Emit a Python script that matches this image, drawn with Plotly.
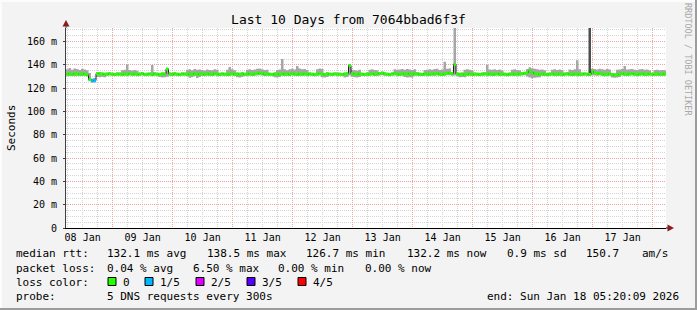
import plotly.graph_objects as go
from datetime import datetime, timedelta

# ---------------- data ----------------
start_time = "2026-01-08 05:20:09"
end_time = "2026-01-18 05:20:09"

median_ms = [
    132.0, 132.4, 131.8, 132.6, 132.2, 131.9, 132.5, 132.1, 131.6, 127.5, 126.5, 126.7, 132.5, 132.7, 132.2, 131.9, 132.1, 132.4, 132.0, 131.8, 132.3, 132.1, 131.7, 132.2,
    132.0, 132.5, 131.9, 132.3, 131.7, 132.1, 132.6, 131.8, 132.0, 132.2, 131.6, 132.4, 132.0, 131.8, 132.3, 132.1, 136.5, 132.2, 131.9, 132.5, 132.0, 131.7, 132.3, 132.1,
    131.8, 132.2, 132.0, 132.6, 131.9, 132.3, 132.1, 131.7, 132.4, 132.0, 131.8, 132.5, 132.2, 131.9, 132.3, 132.0, 131.7, 132.1, 132.4, 131.8, 132.2, 132.0, 132.5, 131.9,
    132.1, 132.4, 131.8, 132.2, 132.7, 133.0, 132.6, 131.9, 132.2, 132.0, 131.7, 132.3, 132.1, 131.8, 132.4, 132.0, 132.2, 131.9, 132.5, 132.1, 131.8, 132.3, 132.0, 132.2,
    131.9, 132.3, 132.0, 131.7, 132.2, 132.5, 132.1, 131.8, 132.4, 132.0, 131.9, 132.3, 132.1, 132.0, 131.8, 132.2, 132.4, 139.5, 132.6, 132.1, 131.9, 132.3, 132.0, 131.8,
    132.2, 132.0, 132.5, 131.9, 132.1, 132.6, 133.0, 132.4, 132.0, 131.8, 132.3, 132.6, 132.2, 131.9, 132.4, 132.1, 132.7, 132.3, 131.9, 132.2, 132.5, 132.0, 131.8, 132.3,
    132.1, 131.9, 132.4, 132.2, 132.6, 132.0, 131.8, 132.3, 132.8, 133.0, 132.4, 140.5, 132.2, 131.9, 132.1, 131.7, 132.0, 132.3, 131.9, 132.2, 132.0, 131.8, 132.1, 132.4,
    132.0, 132.3, 131.8, 132.1, 132.4, 131.9, 132.2, 132.0, 131.7, 132.1, 132.3, 131.9, 132.2, 132.0, 132.5, 132.8, 133.2, 134.8, 133.6, 132.4, 132.1, 131.8, 132.2, 132.0,
    131.8, 132.1, 132.3, 131.9, 132.0, 132.2, 131.7, 132.1, 132.4, 132.0, 131.9, 132.2, 132.0, 131.8, 132.1, 132.3, 132.0, 131.9, 134.5, 133.2, 132.6, 132.8, 132.2, 131.7,
    132.0, 132.3, 131.6, 131.4, 131.8, 132.2, 132.5, 132.1, 131.9, 132.3, 132.6, 132.0, 131.8, 132.2, 132.4, 131.9, 132.1, 132.3, 131.8, 132.0, 132.2, 131.9, 132.1, 132.2,
]

smoke_hi_ms = [
    136.2, 137.3, 135.8, 137.0, 136.4, 135.6, 136.8, 136.0, 135.5, 133.0, 128.4, 128.8, 133.8, 134.0, 133.5, 133.2, 133.4, 133.7, 133.3, 133.1, 133.6, 133.4, 135.5, 135.8,
    140.4, 135.6, 135.2, 135.7, 135.0, 133.4, 133.9, 133.1, 133.3, 133.5, 140.0, 133.7, 133.3, 133.1, 133.6, 133.4, 137.0, 133.5, 133.2, 133.8, 133.3, 133.0, 133.6, 133.4,
    135.8, 136.2, 135.5, 136.4, 135.9, 136.1, 135.6, 135.3, 136.0, 135.7, 135.4, 136.2, 135.8, 133.2, 133.6, 133.3, 135.9, 138.2, 136.3, 135.5, 133.5, 133.3, 133.8, 133.2,
    135.8, 136.3, 135.6, 136.0, 136.8, 137.0, 136.2, 135.7, 135.9, 133.3, 133.0, 133.6, 135.6, 136.0, 145.0, 136.2, 135.5, 136.3, 136.8, 136.0, 139.0, 136.9, 136.2, 136.5,
    135.6, 133.6, 133.3, 133.0, 136.2, 137.0, 136.5, 133.1, 133.7, 133.3, 133.2, 133.6, 133.4, 133.3, 133.1, 133.5, 133.7, 140.2, 135.9, 135.5, 135.3, 135.8, 133.3, 133.1,
    133.5, 135.8, 136.2, 135.6, 135.4, 133.9, 134.3, 133.7, 133.3, 133.1, 133.6, 136.3, 135.9, 136.1, 136.5, 135.8, 136.6, 136.0, 135.7, 136.2, 133.8, 133.3, 133.1, 135.7,
    135.9, 136.2, 135.8, 136.4, 136.7, 135.6, 136.0, 142.7, 136.8, 137.0, 134.0, 171.7, 133.5, 133.2, 133.4, 135.8, 136.2, 135.9, 135.5, 133.5, 133.3, 133.1, 133.4, 133.7,
    140.0, 136.1, 135.8, 136.3, 135.6, 136.0, 135.4, 133.3, 133.0, 133.4, 135.9, 136.2, 135.7, 135.5, 133.8, 134.1, 136.5, 138.0, 137.2, 136.8, 136.3, 135.8, 136.1, 135.5,
    133.1, 133.4, 135.9, 136.3, 135.7, 136.1, 135.6, 133.4, 133.7, 136.0, 135.7, 136.3, 144.0, 136.2, 133.6, 133.6, 133.3, 133.2, 136.8, 136.5, 136.0, 136.7, 136.2, 135.9,
    136.4, 136.0, 133.0, 132.8, 135.8, 136.1, 136.5, 139.0, 136.0, 136.3, 136.6, 135.9, 135.6, 136.2, 136.4, 135.8, 136.0, 135.5, 133.2, 135.6, 135.9, 135.4, 135.7, 135.5,
]

smoke_lo_ms = [
    130.8, 130.5, 130.9, 130.2, 130.7, 130.6, 130.4, 130.8, 130.0, 126.0, 124.8, 125.0, 129.6, 129.4, 129.8, 129.5, 130.8, 130.9, 130.7, 130.6, 130.8, 130.9, 130.5, 130.8,
    130.7, 130.9, 130.6, 130.8, 130.5, 130.7, 131.0, 130.6, 130.8, 130.9, 130.4, 130.8, 130.7, 129.6, 129.3, 129.5, 129.8, 130.7, 130.5, 130.8, 130.7, 130.4, 130.8, 130.9,
    130.6, 129.0, 129.4, 130.5, 128.8, 129.6, 130.7, 130.4, 130.8, 130.6, 130.5, 130.9, 130.7, 130.5, 130.8, 130.6, 130.5, 130.7, 130.9, 130.4, 129.4, 129.2, 129.7, 130.6,
    130.8, 130.7, 130.5, 130.9, 131.0, 131.2, 130.9, 130.5, 130.7, 130.8, 130.4, 129.5, 129.3, 129.6, 130.8, 130.5, 130.7, 130.4, 130.9, 130.6, 130.5, 130.8, 130.6, 130.9,
    130.6, 130.8, 130.7, 130.3, 130.8, 130.9, 129.5, 129.2, 129.6, 130.7, 130.5, 130.9, 130.8, 130.6, 130.4, 129.3, 129.6, 130.9, 129.8, 129.5, 129.3, 129.7, 130.6, 130.5,
    130.8, 130.6, 130.9, 130.5, 130.7, 131.0, 131.2, 130.8, 130.6, 130.3, 130.7, 130.9, 130.6, 130.4, 130.8, 129.6, 129.3, 129.5, 129.2, 130.6, 130.8, 130.5, 130.4, 130.7,
    130.6, 130.4, 130.8, 130.7, 131.0, 130.6, 130.4, 130.7, 131.1, 131.2, 130.8, 131.0, 130.7, 129.5, 129.7, 129.4, 130.6, 130.8, 130.5, 130.7, 130.6, 130.4, 130.7, 130.9,
    130.6, 130.8, 130.4, 130.6, 130.9, 130.5, 130.7, 130.6, 130.3, 130.7, 130.8, 130.5, 130.7, 130.6, 131.0, 131.1, 130.0, 129.2, 128.6, 128.9, 129.3, 129.5, 130.6, 130.5,
    130.4, 130.7, 130.9, 130.5, 130.6, 130.8, 130.3, 130.7, 130.9, 130.6, 130.5, 130.8, 130.6, 130.4, 130.7, 130.9, 130.6, 130.5, 131.0, 130.9, 130.7, 130.9, 130.6, 130.3,
    130.7, 130.8, 129.2, 129.0, 129.3, 129.6, 131.0, 130.8, 130.5, 130.9, 131.0, 130.7, 130.5, 130.8, 130.9, 130.6, 130.7, 130.9, 130.5, 130.7, 130.8, 130.6, 130.7, 130.8,
]

# hours (since start) that had packet loss, and how many of 5 pings were lost
loss_hours = [10, 11]
loss_fifths = [1, 1]

# dense (darker) smoke burst
dark_hours = [209]
dark_lo_ms = [133.0]
dark_hi_ms = [171.7]

y_tick_vals = [0, 20, 40, 60, 80, 100, 120, 140, 160]
y_tick_text = ["0", "20 m", "40 m", "60 m", "80 m", "100 m", "120 m", "140 m", "160 m"]

loss_labels = ["0", "1/5", "2/5", "3/5", "4/5"]
loss_colors = ["#26ff00", "#00b8ff", "#dd00ff", "#5500ff", "#ff0000"]

title_text = "Last 10 Days from 7064bbad6f3f"
legend_rows = [
    [("median rtt:", 16), ("132.1 ms avg", 107.3), ("138.5 ms max", 207.3), ("126.7 ms min", 306),
     ("132.2 ms now", 407.3), ("0.9 ms sd", 506.7), ("150.7", 586), ("am/s", 642.3)],
    [("packet loss:", 16), ("0.04 % avg", 107.3), ("6.50 % max", 192.7), ("0.00 % min", 278.3),
     ("0.00 % now", 365)],
    [("loss color:", 16)],
    [("probe:", 16), ("5 DNS requests every 300s", 107.3)],
]
end_text = "end: Sun Jan 18 05:20:09 2026"

# ---------------- geometry helpers ----------------
W, H = 697, 310
L, R, T, B = 66, 31, 28, 82
PW, PH = W - L - R, H - T - B
FONT = "DejaVu Sans Mono"


def px(x):
    return (x - L) / PW


def py(y):
    return (H - B - y) / PH


t0 = datetime.strptime(start_time, "%Y-%m-%d %H:%M:%S")
t1 = datetime.strptime(end_time, "%Y-%m-%d %H:%M:%S")
step = timedelta(hours=1)
n = len(median_ms)
times = [t0 + i * step for i in range(n)]
xs_step = times + [t1]

loss = [0] * n
for h, f in zip(loss_hours, loss_fifths):
    loss[h] = f

fig = go.Figure()


def band(x, lo, hi, color):
    fig.add_trace(go.Scatter(x=x, y=lo, mode="lines", line=dict(width=0, shape="hv"),
                             hoverinfo="skip"))
    fig.add_trace(go.Scatter(x=x, y=hi, mode="lines", line=dict(width=0, shape="hv"),
                             fill="tonexty", fillcolor=color, hoverinfo="skip"))


# smoke (min..max of the pings per step)
band(xs_step, smoke_lo_ms + [smoke_lo_ms[-1]], smoke_hi_ms + [smoke_hi_ms[-1]], "#a6a6a6")
for h, lo, hi in zip(dark_hours, dark_lo_ms, dark_hi_ms):
    band([times[h], times[h] + step], [lo, lo], [hi, hi], "#4e4e4e")

# thin dark median step line
fig.add_trace(go.Scatter(
    x=xs_step, y=median_ms + [median_ms[-1]], mode="lines",
    line=dict(color="#202020", width=1, shape="hv"), hoverinfo="skip",
))

# loss-coloured median segments
for lvl, col in enumerate(loss_colors):
    xs, ys = [], []
    for i in range(n):
        if loss[i] == lvl:
            xs += [times[i], min(times[i] + step, t1), None]
            ys += [median_ms[i], median_ms[i], None]
    if xs:
        fig.add_trace(go.Scatter(x=xs, y=ys, mode="lines",
                                 line=dict(color=col, width=3), hoverinfo="skip"))

MAJ = "#eea2a2"
MIN = "#d4d4d4"

fig.update_layout(
    width=W, height=H,
    margin=dict(l=L, r=R, t=T, b=B, pad=0),
    paper_bgcolor="#f3f3f3", plot_bgcolor="#ffffff",
    showlegend=False,
    font=dict(family=FONT, size=10, color="#000000"),
    title=dict(text=title_text, x=0.5, xref="container", xanchor="center",
               y=1 - 19 / H, yref="container", yanchor="middle",
               font=dict(family=FONT, size=13, color="#000000")),
    xaxis=dict(
        type="date", range=[t0, t1], dtick=86400000, tick0="2026-01-08 00:00:00",
        ticklabelmode="period", tickformat="%d %b",
        showgrid=True, gridcolor=MAJ, griddash="1px,1px", gridwidth=1,
        minor=dict(dtick=6 * 3600000, showgrid=True, gridcolor=MIN, griddash="1px,1px", gridwidth=1),
        showline=True, linecolor="#000000", linewidth=1, zeroline=False,
        ticks="", tickfont=dict(family=FONT, size=10, color="#000000"),
    ),
    yaxis=dict(
        range=[0, 171.7], tickvals=y_tick_vals, ticktext=y_tick_text,
        showgrid=True, gridcolor=MAJ, griddash="1px,1px", gridwidth=1,
        minor=dict(dtick=5, showgrid=True, gridcolor=MIN, griddash="1px,1px", gridwidth=1),
        showline=True, linecolor="#404040", linewidth=1, zeroline=False,
        ticks="outside", ticklen=2, tickcolor="#404040",
        ticklabelstandoff=4,
        tickfont=dict(family=FONT, size=10, color="#000000"),
    ),
)

shapes = []
# frame (3D border)
shapes.append(dict(type="rect", xref="paper", yref="paper", x0=px(0), x1=px(W), y0=py(0), y1=py(2),
                   fillcolor="#fcfcfc", line=dict(width=0), layer="below"))
shapes.append(dict(type="rect", xref="paper", yref="paper", x0=px(0), x1=px(2), y0=py(0), y1=py(H),
                   fillcolor="#fcfcfc", line=dict(width=0), layer="below"))
shapes.append(dict(type="rect", xref="paper", yref="paper", x0=px(0), x1=px(W), y0=py(H - 2), y1=py(H),
                   fillcolor="#9c9c9c", line=dict(width=0), layer="below"))
shapes.append(dict(type="rect", xref="paper", yref="paper", x0=px(W - 2), x1=px(W), y0=py(0), y1=py(H),
                   fillcolor="#9c9c9c", line=dict(width=0), layer="below"))
# y axis extension + arrow
shapes.append(dict(type="line", xref="paper", yref="paper", x0=0, x1=0, y0=1, y1=py(22),
                   line=dict(color="#404040", width=1)))
shapes.append(dict(type="path", xref="paper", yref="paper",
                   path=f"M {px(66)} {py(20)} L {px(62.5)} {py(26.5)} L {px(69.5)} {py(26.5)} Z",
                   fillcolor="#8b1c1c", line=dict(width=0)))
# x axis extension + arrow
shapes.append(dict(type="line", xref="paper", yref="paper", x0=1, x1=px(670), y0=0, y1=0,
                   line=dict(color="#000000", width=1)))
shapes.append(dict(type="path", xref="paper", yref="paper",
                   path=f"M {px(674)} {py(228)} L {px(667.5)} {py(224.5)} L {px(667.5)} {py(231.5)} Z",
                   fillcolor="#8b1c1c", line=dict(width=0)))

# loss color legend boxes
box_x = [108, 145, 196, 247, 298]
lab_x = [123.3, 160, 211, 262, 312.7]
for bx, col in zip(box_x, loss_colors):
    shapes.append(dict(type="rect", xref="paper", yref="paper",
                       x0=px(bx), x1=px(bx + 8), y0=py(285.5), y1=py(277.5),
                       fillcolor=col, line=dict(color="#000000", width=1)))

annotations = []


def ann(x, y, text, size=11, xanchor="left", color="#000000", angle=0):
    annotations.append(dict(x=px(x), y=py(y), xref="paper", yref="paper", text=text,
                            showarrow=False, xanchor=xanchor, yanchor="middle",
                            textangle=angle, borderpad=0,
                            font=dict(family=FONT, size=size, color=color)))


row_y = [254, 268.5, 282, 296.5]
for row, yy in zip(legend_rows, row_y):
    for txt, xx in row:
        ann(xx - 1, yy, txt)
for lx, lab in zip(lab_x, loss_labels):
    ann(lx - 1, row_y[2], lab)
ann(680, row_y[3], end_text, xanchor="right")

ann(11, 128, "Seconds", size=11, xanchor="center", angle=-90)
ann(688, 59, "RRDTOOL / TOBI OETIKER", size=8.5, xanchor="center", color="#a8a8a8", angle=90)

fig.update_layout(shapes=shapes, annotations=annotations)

fig.write_html("out.html")
